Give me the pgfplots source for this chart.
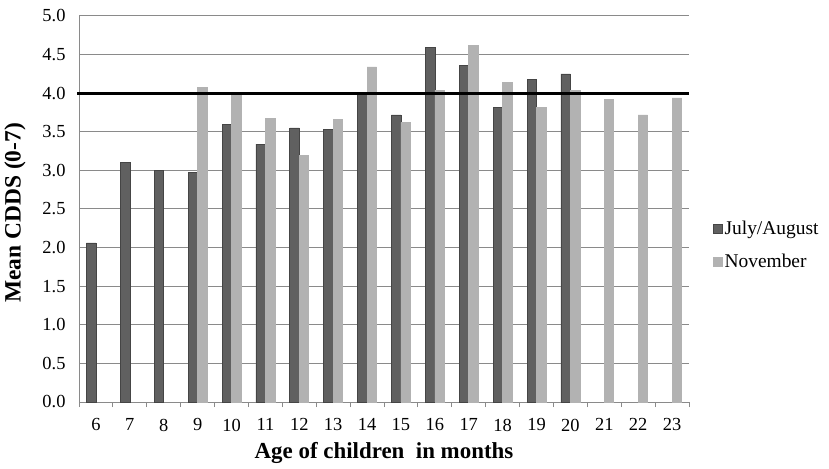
\documentclass[border=0pt]{standalone}
\usepackage{pgfplots}
\pgfplotsset{compat=1.18}
\usepackage{fontspec}
\setmainfont{Liberation Serif}
\definecolor{darkbar}{HTML}{606060}
\definecolor{darkedge}{HTML}{454545}
\definecolor{lightbar}{HTML}{B2B2B2}
\definecolor{gridgray}{HTML}{8A8A8A}
\begin{document}
\begin{tikzpicture}
\path[use as bounding box] (0,0) rectangle (829bp,469bp);
\begin{axis}[
  at={(79bp,67bp)}, anchor=south west,
  scale only axis, width=610bp, height=386bp,
  xmin=5.5, xmax=23.5, ymin=0, ymax=5,
  axis x line*=bottom, axis y line*=left,
  axis line style={gridgray, line width=1bp},
  xtick={6,...,23},
  minor xtick={5.5,6.5,...,23.5},
  major x tick style={draw=none},
  minor x tick style={gridgray, line width=1bp},
  minor tick length=5bp,
  xtick align=outside,
  ytick={0,0.5,...,5},
  ytick style={draw=none},
  ymajorgrids,
  major grid style={gridgray, line width=1bp},
  /pgf/number format/assume math mode=true,
  yticklabel style={/pgf/number format/.cd, fixed, fixed zerofill, precision=1, /tikz/.cd, font=\fontsize{18.5}{22}\selectfont, xshift=-10bp},
  xticklabel style={font=\fontsize{18.5}{22}\selectfont, yshift=-9bp},
  xlabel={Age of children\ \ in months},
  ylabel={Mean CDDS (0-7)},
  xlabel style={font=\fontsize{23}{27}\selectfont\bfseries, at={(axis description cs:0.5,-0.132)}, anchor=center},
  ylabel style={font=\fontsize{23.5}{27}\selectfont\bfseries, at={(axis description cs:-0.105,0.49)}, anchor=center, rotate=0},
  legend style={draw=none, fill=none, at={(axis description cs:1.039,0.407)}, anchor=west, font=\fontsize{19.5}{23}\selectfont, row sep=14bp, inner sep=0pt, cells={anchor=west}},
  legend image code/.code={\draw[#1] (0bp,-4.5bp) rectangle (9bp,4.5bp);},
  clip=false,
]
\addplot[ybar, bar width=9.5bp, bar shift=-4.75bp, fill=darkbar, draw=darkedge, line width=0.6bp]
  coordinates {(6,2.06) (7,3.10) (8,3.00) (9,2.97) (10,3.60) (11,3.34) (12,3.55) (13,3.53) (14,4.00) (15,3.72) (16,4.59) (17,4.36) (18,3.82) (19,4.18) (20,4.25)};
\addlegendentry{July/August}
\addplot[ybar, bar width=9.5bp, bar shift=4.75bp, fill=lightbar, draw=lightbar, line width=0.6bp]
  coordinates {(9,4.07) (10,3.98) (11,3.67) (12,3.19) (13,3.66) (14,4.34) (15,3.62) (16,4.04) (17,4.62) (18,4.14) (19,3.82) (20,4.04) (21,3.92) (22,3.72) (23,3.94)};
\addlegendentry{November}
\addplot[black, line width=3.2bp, forget plot] coordinates {(5.45,4) (23.5,4)};
\end{axis}
\end{tikzpicture}
\end{document}
